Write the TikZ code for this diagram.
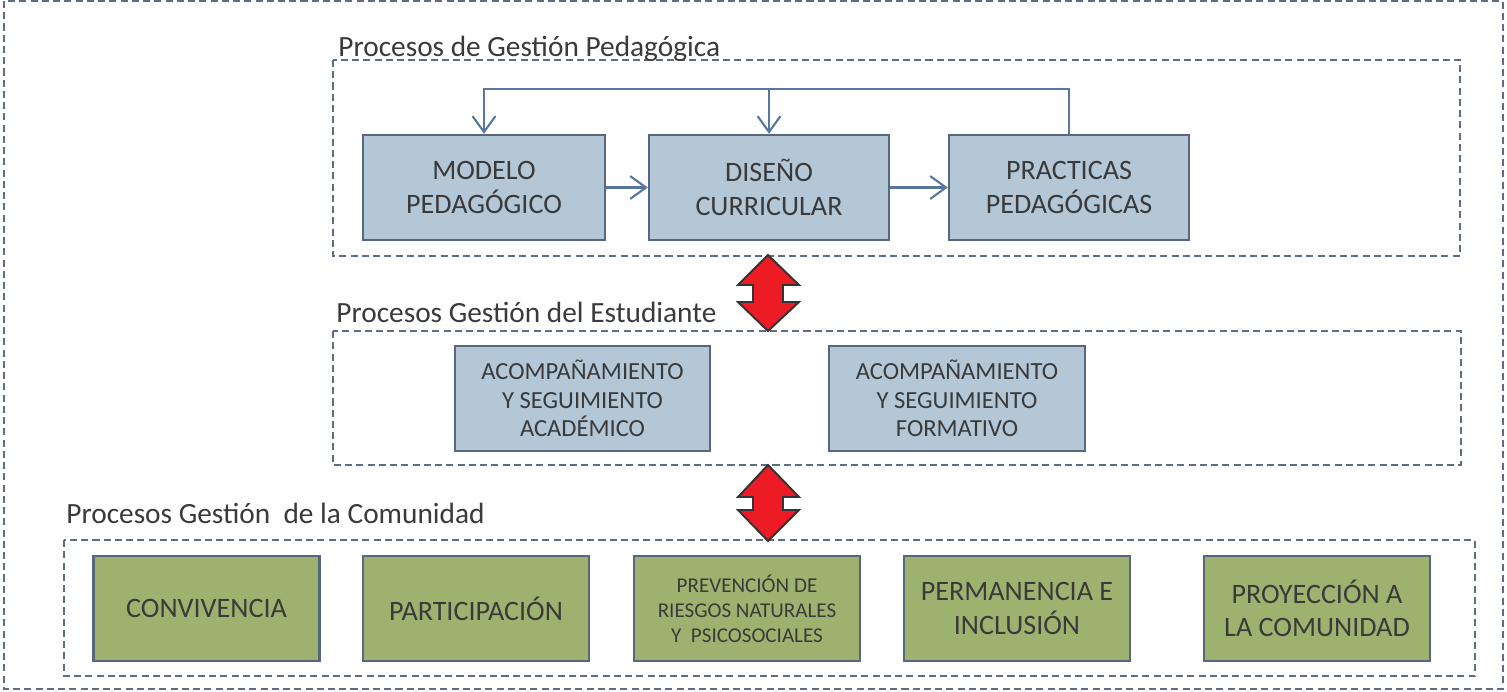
\documentclass[tikz,border=0pt]{standalone}
\usepackage{fontspec}
\setmainfont{Carlito}
\usetikzlibrary{arrows.meta}
\definecolor{dashc}{HTML}{5D6E84}
\definecolor{boxb}{HTML}{56677E}
\definecolor{bluef}{HTML}{B3C7D7}
\definecolor{greenf}{HTML}{9DB26F}
\definecolor{linec}{HTML}{5777A0}
\definecolor{txt}{HTML}{3A3A3A}
\definecolor{redf}{HTML}{ED1C24}
\tikzset{
  dashbox/.style={draw=dashc, line width=1.1pt, dash pattern=on 4pt off 2.4pt},
  bbox/.style={draw=boxb, line width=1.4pt, fill=bluef, text=txt, align=center, inner sep=0pt, minimum height=2.1cm},
  gbox/.style={draw=boxb, line width=1.4pt, fill=greenf, text=txt, align=center, inner sep=0pt, minimum height=2.1cm, minimum width=4.52cm},
  conn/.style={draw=linec, line width=1.2pt, -{Straight Barb[length=9pt,width=13pt,line width=1.2pt]}},
  ttl/.style={anchor=base west, text=txt, inner sep=0pt, font=\fontsize{16.7pt}{20pt}\selectfont},
  redarrow/.style={fill=redf, draw=black!80, line width=1.1pt, line join=miter},
}
\begin{document}
\begin{tikzpicture}[x=0.02cm, y=-0.02cm]
\useasboundingbox (0,0) rectangle (1507,691);
% outer frame
\draw[dashbox] (4,1) rectangle (1503,689);
% group frames
\draw[dashbox] (333,60) rectangle (1460,256);
\draw[dashbox] (333,331) rectangle (1461,465);
\draw[dashbox] (64,540) rectangle (1475,676);
% titles
\node[ttl] (t1) at (338,56) {Procesos de Gestión Pedagógica};
\node[ttl] (t2) at (336,322) {Procesos Gestión del Estudiante};
\node[ttl] (t3) at (66,523) {Procesos Gestión \ de la Comunidad};
% pedagogic boxes
\begin{scope}[font=\fontsize{16pt}{19pt}\selectfont]
\node[bbox, minimum width=4.84cm] (mod) at (484,187.5) {MODELO\\PEDAGÓGICO};
\node[bbox, minimum width=4.8cm] (dis) at (769,187.5) {DISEÑO\\CURRICULAR};
\node[bbox, minimum width=4.8cm] (pra) at (1069,187.5) {PRACTICAS\\PEDAGÓGICAS};
\end{scope}
\coordinate (top) at (0,89);
\draw[conn] (mod) -- (dis);
\draw[conn] (dis) -- (pra);
\draw[conn] (pra.north) -- (pra.north |- top) -| (mod.north);
\draw[conn] (dis.north |- top) -- (dis.north);
% student boxes
\begin{scope}[font=\fontsize{14pt}{16.3pt}\selectfont]
\node[bbox, minimum width=5.1cm] (aca) at (582.5,398.5) {ACOMPAÑAMIENTO\\Y SEGUIMIENTO\\ACADÉMICO};
\node[bbox, minimum width=5.12cm] (for) at (957,398.5) {ACOMPAÑAMIENTO\\Y SEGUIMIENTO\\FORMATIVO};
\end{scope}
% community boxes
\begin{scope}[font=\fontsize{16pt}{19pt}\selectfont]
\node[gbox] (con) at (206.5,608.5) {CONVIVENCIA};
\node[gbox] (par) at (476,608.5) {PARTICIPACIÓN};
\node[gbox, font=\fontsize{12pt}{14.2pt}\selectfont] (pre) at (747,608.5) {PREVENCIÓN DE\\RIESGOS NATURALES\\Y \ PSICOSOCIALES};
\node[gbox] (per) at (1017,608.5) {PERMANENCIA E\\INCLUSIÓN};
\node[gbox] (pro) at (1317,608.5) {PROYECCIÓN A\\LA COMUNIDAD};
\end{scope}
% red double arrows
\draw[redarrow] (768,255) -- (799,285) -- (783,285) -- (783,302) -- (799,302) -- (768,331)
  -- (738,302) -- (753,302) -- (753,285) -- (738,285) -- cycle;
\draw[redarrow] (768,465) -- (799,497) -- (783,497) -- (783,510) -- (799,510) -- (768,541)
  -- (738,510) -- (753,510) -- (753,497) -- (738,497) -- cycle;
\end{tikzpicture}
\end{document}
